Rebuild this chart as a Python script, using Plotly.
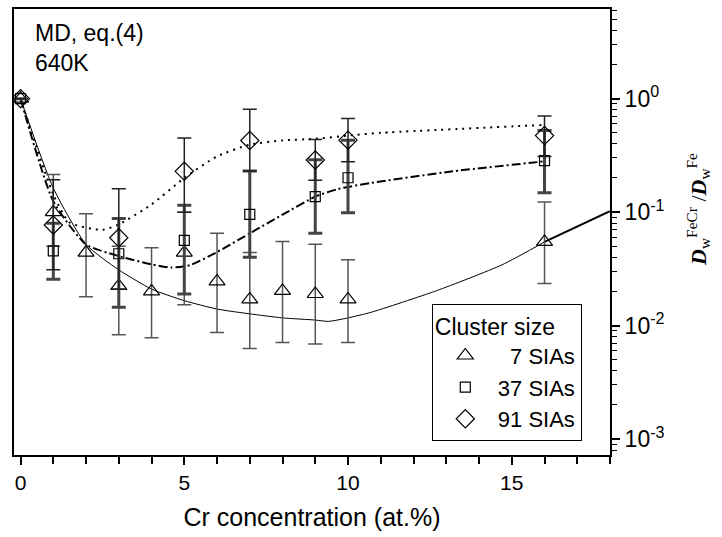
import plotly.graph_objects as go

# ---- data ----
x7 = [0, 1, 2, 3, 4, 5, 6, 7, 8, 9, 10, 16]
y7 = [1.0, 0.10, 0.044, 0.0224, 0.020, 0.044, 0.0245, 0.017, 0.0202, 0.019, 0.017, 0.0546]
y7_hi = [1.0, 0.215, 0.097, 0.05, 0.0486, 0.10, 0.065, 0.044, 0.055, 0.052, 0.038, 0.123]
y7_lo = [1.0, 0.05, 0.018, 0.0083, 0.0078, 0.0153, 0.0087, 0.0063, 0.0071, 0.0069, 0.0071, 0.0235]

x37 = [0, 1, 3, 5, 7, 9, 10, 16]
y37 = [1.0, 0.0455, 0.043, 0.0564, 0.0955, 0.137, 0.201, 0.284]
y37_hi = [1.0, 0.08, 0.088, 0.115, 0.23, 0.29, 0.43, 0.524]
y37_lo = [1.0, 0.0256, 0.0145, 0.019, 0.040, 0.065, 0.099, 0.148]

x91 = [0, 1, 3, 5, 7, 9, 10, 16]
y91 = [1.0, 0.077, 0.0595, 0.229, 0.428, 0.288, 0.431, 0.473]
y91_hi = [1.0, 0.193, 0.161, 0.449, 0.805, 0.437, 0.668, 0.705]
y91_lo = [1.0, 0.031, 0.021, 0.10, 0.23, 0.191, 0.278, 0.31]

# fitted curves
fx7 = [0, 1, 2, 3, 4, 5, 6, 7, 8, 9, 9.4, 10, 10.7, 12.7, 14.7, 16]
fy7 = [1.0, 0.163, 0.052, 0.031, 0.021, 0.0166, 0.014, 0.0127, 0.0117, 0.0112, 0.0109, 0.0117, 0.0131, 0.0203, 0.0343, 0.0546]
fx7_tail = [16, 18]
fy7_tail = [0.0546, 0.102]
fx37 = [0, 1, 2, 3, 4, 4.6, 5.2, 6, 7, 8, 9, 9.7, 10.7, 13.2, 16]
fy37 = [1.0, 0.125, 0.052, 0.041, 0.0347, 0.0325, 0.0343, 0.0445, 0.065, 0.095, 0.137, 0.16, 0.181, 0.229, 0.28]
fx91 = [0, 1, 1.5, 2.5, 3, 4, 5, 6, 7, 8, 9, 10, 11, 16]
fy91 = [1.0, 0.143, 0.081, 0.070, 0.078, 0.117, 0.2, 0.31, 0.393, 0.428, 0.443, 0.473, 0.50, 0.587]

legend_names = ["\u20077 SIAs", "37 SIAs", "91 SIAs"]
ytick_vals = [1e-3, 1e-2, 1e-1, 1]
ytick_text = ["10<sup>-3</sup>", "10<sup>-2</sup>", "10<sup>-1</sup>", "10<sup>0</sup>"]
minor_vals = [m * 10 ** e for e in (-4, -3, -2, -1, 0) for m in range(2, 10)]

FONT = "Liberation Sans, Arial, sans-serif"

fig = go.Figure()

# fit lines
fig.add_trace(go.Scatter(x=fx7, y=fy7, mode="lines", line=dict(color="black", width=1, shape="spline", smoothing=0.6),
                         showlegend=False, hoverinfo="skip"))
fig.add_trace(go.Scatter(x=fx7_tail, y=fy7_tail, mode="lines", line=dict(color="black", width=2),
                         showlegend=False, hoverinfo="skip"))
fig.add_trace(go.Scatter(x=fx37, y=fy37, mode="lines", line=dict(color="black", width=2, dash="9px,3px,2px,3px", shape="spline", smoothing=0.6),
                         showlegend=False, hoverinfo="skip"))
fig.add_trace(go.Scatter(x=fx91, y=fy91, mode="lines", line=dict(color="black", width=2, dash="2px,5px", shape="spline", smoothing=0.6),
                         showlegend=False, hoverinfo="skip"))

def err(y, hi, lo):
    return dict(type="data", symmetric=False,
                array=[h - v for h, v in zip(hi, y)],
                arrayminus=[v - l for v, l in zip(y, lo)])

e7 = err(y7, y7_hi, y7_lo); e7.update(color="#555555", thickness=1.5, width=7)
e37 = err(y37, y37_hi, y37_lo); e37.update(color="#444444", thickness=3, width=7)
e91 = err(y91, y91_hi, y91_lo); e91.update(color="#222222", thickness=1.5, width=7)

fig.add_trace(go.Scatter(x=x7, y=y7, mode="markers", name=legend_names[0], error_y=e7,
                         marker=dict(symbol="triangle-up-open", size=14, color="black", line=dict(width=1.2))))
fig.add_trace(go.Scatter(x=x37, y=y37, mode="markers", name=legend_names[1], error_y=e37,
                         marker=dict(symbol="square-open", size=10, color="black", line=dict(width=1.2))))
fig.add_trace(go.Scatter(x=x91, y=y91, mode="markers", name=legend_names[2], error_y=e91,
                         marker=dict(symbol="diamond-open", size=14, color="black", line=dict(width=1.2))))

fig.update_layout(
    width=722, height=537,
    margin=dict(l=14, r=112, t=7, b=82),
    paper_bgcolor="white", plot_bgcolor="white",
    font=dict(family=FONT, size=21, color="black"),
    showlegend=True,
    legend=dict(x=0.701, y=0.339, xanchor="left", yanchor="top",
                bgcolor="white", bordercolor="black", borderwidth=1,
                title=dict(text="Cluster size", font=dict(size=23)),
                font=dict(size=22), tracegroupgap=0, itemwidth=55),
)

fig.update_xaxes(range=[-0.2, 18], showline=True, linewidth=2, linecolor="black", mirror=True,
                 ticks="outside", ticklen=8, tickwidth=1.5, tickcolor="black",
                 tickvals=[0, 5, 10, 15], showgrid=False, zeroline=False,
                 minor=dict(dtick=1, tick0=0, ticks="outside", ticklen=7, tickwidth=1.5, tickcolor="black", showgrid=False),
                 title=dict(text="Cr concentration (at.%)", font=dict(size=25), standoff=15),
                 tickfont=dict(size=21))

fig.update_yaxes(type="log", range=[-3.14, 0.79], side="right",
                 showline=True, linewidth=2, linecolor="black", mirror=True,
                 ticks="outside", ticklen=8, tickwidth=1.5, tickcolor="black",
                 tickmode="array", tickvals=ytick_vals, ticktext=ytick_text,
                 minor=dict(tickmode="array", tickvals=minor_vals, ticks="outside", ticklen=5, tickwidth=1, tickcolor="black", showgrid=False),
                 showgrid=False, zeroline=False, tickfont=dict(size=23))

fig.add_annotation(x=0.032, y=0.98, xref="paper", yref="paper", xanchor="left", yanchor="top",
                   text="MD, eq.(4)<br>640K", showarrow=False, align="left", font=dict(size=23))

fig.add_annotation(x=1.148, y=0.55, xref="paper", yref="paper", xanchor="center", yanchor="middle",
                   textangle=-90, showarrow=False,
                   text="<b><i>D</i></b><sub>w</sub><sup>FeCr</sup> /<b><i>D</i></b><sub>w</sub><sup>Fe</sup>",
                   font=dict(family="Liberation Serif, Times New Roman, serif", size=22))

fig.write_html("out.html", config={"displayModeBar": False},
               post_script="document.body.style.margin='0';")
